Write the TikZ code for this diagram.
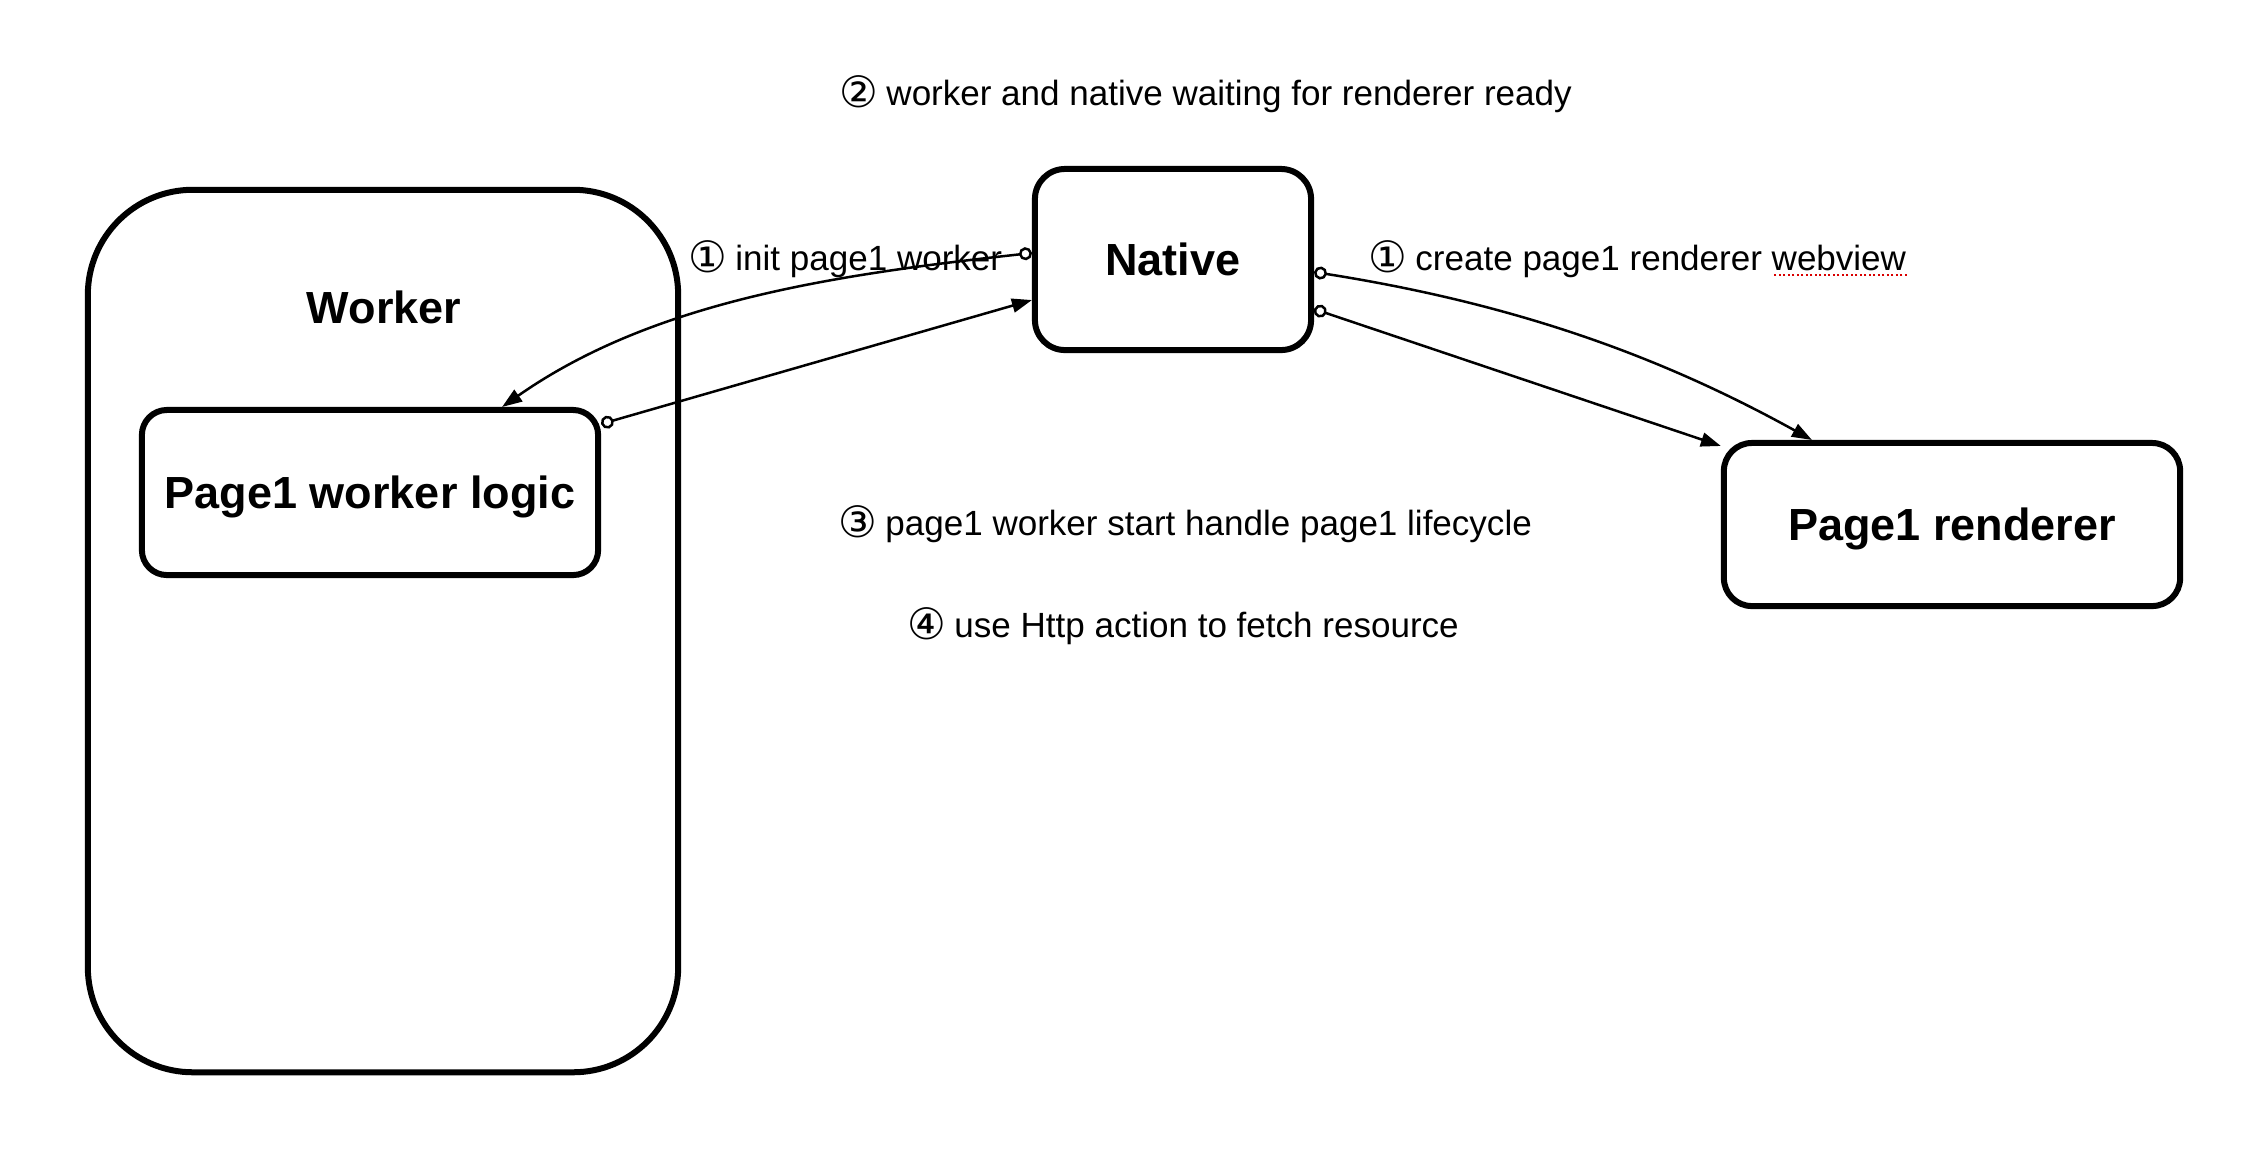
\documentclass[tikz,border=0pt]{standalone}
\usepackage{fontspec}
\setmainfont{Liberation Sans}
\newfontfamily\dvsfont{DejaVu Sans}
\usetikzlibrary{arrows.meta}
\newcommand\cnum[1]{\makebox[0.37cm][l]{\fontsize{12.3pt}{14pt}\selectfont\dvsfont\raisebox{-0.02cm}{#1}}}
\begin{document}
\begin{tikzpicture}[x=0.01cm,y=-0.01cm,
  box/.style={draw=black, line width=0.06cm, fill=white, inner sep=0pt,
    font=\fontsize{12.8pt}{15pt}\selectfont\bfseries, text height=0.32cm, text depth=0pt},
  titletext/.style={inner sep=0pt, font=\fontsize{12.8pt}{15pt}\selectfont\bfseries,
    text height=0.32cm, text depth=0pt},
  lbl/.style={anchor=base west, inner sep=0pt, font=\fontsize{9.96pt}{12pt}\selectfont},
  conn/.style={line width=0.025cm,
    {Circle[open,length=0.13cm,width=0.13cm]}-{Triangle[length=0.2cm,width=0.14cm]}}
]
\fill[white] (0,0) rectangle (2242,1150);
\useasboundingbox (0,0) rectangle (2242,1150);

% boxes
\node[box, minimum width=5.9cm, minimum height=8.82cm, rounded corners=1.05cm] (worker) at (383,631) {};
\node[titletext] (workertitle) at (384,307) {Worker};
\node[box, minimum width=4.56cm, minimum height=1.65cm, rounded corners=0.25cm] (logic) at (370,492.5) {Page1 worker logic};
\node[box, minimum width=2.76cm, minimum height=1.81cm, rounded corners=0.3cm] (native) at (1173,259.5) {Native};
\node[box, minimum width=4.56cm, minimum height=1.63cm, rounded corners=0.28cm] (renderer) at (1952,524.5) {Page1 renderer};

% labels
\node[lbl] (l2) at (839,105) {\cnum{②} worker and native waiting for renderer ready};
\node[lbl] (l1a) at (688,270) {\cnum{①} init page1 worker};
\node[lbl] (l1b) at (1368,270) {\cnum{①} create page1 renderer webview};
\node[lbl] (l3) at (838,535) {\cnum{③} page1 worker start handle page1 lifecycle};
\node[lbl] (l4) at (907,637) {\cnum{④} use Http action to fetch resource};
\draw[red!85!black, line width=0.02cm, dash pattern=on 0.02cm off 0.025cm]
  ([yshift=-0.045cm]l1b.base east) -- +(-134,0);

% connectors
\draw[conn] ([yshift=0.065cm]native.west) .. controls (831,275) and (652,302) .. ([xshift=1.32cm]logic.north);
\draw[conn] ([yshift=0.685cm]logic.east) -- ([yshift=-0.405cm]native.west);
\draw[conn] ([yshift=-0.125cm]native.east) .. controls (1517,304) and (1662,357) .. ([xshift=-1.40cm]renderer.north);
\draw[conn] ([yshift=-0.495cm]native.east) -- ([yshift=-0.06cm]renderer.north west);
\end{tikzpicture}
\end{document}
